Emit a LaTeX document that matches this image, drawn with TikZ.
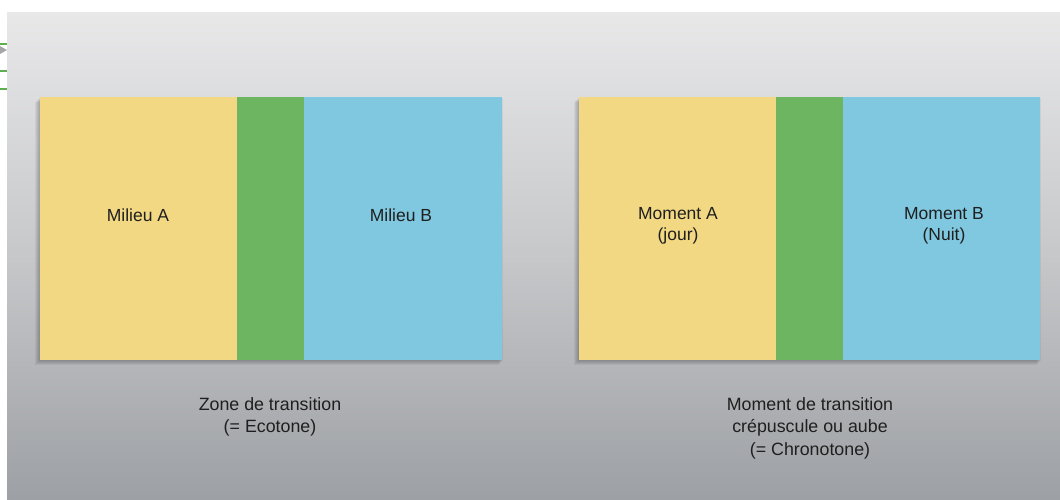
\documentclass[tikz,border=0pt]{standalone}
\usepackage{fontspec}
\setmainfont{Liberation Sans}
\begin{document}
\begin{tikzpicture}[x=1pt,y=-1pt,
  zone/.style={draw=none,inner sep=0pt,minimum height=263pt,anchor=north west},
  shadowbox/.style={fill=black,opacity=0.05},
  lbltxt/.style={font=\fontsize{17.5}{20.5}\selectfont,text=black!88,align=center},
  captxt/.style={font=\fontsize{17.8}{22.5}\selectfont,text=black!88,align=center}]
\definecolor{zyellow}{HTML}{F2D883}
\definecolor{zgreen}{HTML}{6DB560}
\definecolor{zblue}{HTML}{7FC8E0}
\definecolor{bgtop}{HTML}{E8E8E9}
\definecolor{bgbot}{HTML}{9DA0A4}
\definecolor{markgreen}{HTML}{5DAE4E}
\useasboundingbox (0,0) rectangle (1060,499);
\fill[white] (0,0) rectangle (1060,499);
% background panel
\shade[top color=bgtop,bottom color=bgbot,middle color=bgtop!55!bgbot] (7,12) rectangle (1060,499);
% left-edge marks
\draw[markgreen,line width=2.2pt] (0,44) -- (7,44);
\draw[markgreen,line width=2.2pt] (0,71) -- (7,71);
\draw[markgreen,line width=2.2pt] (0,89) -- (7,89);
\fill[gray!70] (0,46) -- (7,50) -- (0,54) -- cycle;
% soft shadows
\foreach \d in {1,2,3,4,5}{
  \fill[shadowbox] (40-\d,97+\d) rectangle (502-\d+2,360+\d);
  \fill[shadowbox] (579-\d,97+\d) rectangle (1040-\d+2,360+\d);
}
% left group
\node[zone,fill=zyellow,minimum width=197pt] (ya) at (40,97) {};
\node[zone,fill=zgreen,minimum width=67pt] (ga) at (237,97) {};
\node[zone,fill=zblue,minimum width=198pt] (ba) at (304,97) {};
% right group
\node[zone,fill=zyellow,minimum width=197pt] (yb) at (579,97) {};
\node[zone,fill=zgreen,minimum width=67pt] (gb) at (776,97) {};
\node[zone,fill=zblue,minimum width=197pt] (bb) at (843,97) {};
% labels
\node[lbltxt] (la) at (138,215) {Milieu A};
\node[lbltxt] (lb) at (401,215) {Milieu B};
\node[lbltxt] (lc) at (678,226) {Moment A\\(jour)};
\node[lbltxt] (ld) at (944,226) {Moment B\\(Nuit)};
% captions
\node[captxt] (ca) at (270,417) {Zone de transition\\(= Ecotone)};
\node[captxt] (cb) at (810,428) {Moment de transition\\crépuscule ou aube\\(= Chronotone)};
\end{tikzpicture}
\end{document}
